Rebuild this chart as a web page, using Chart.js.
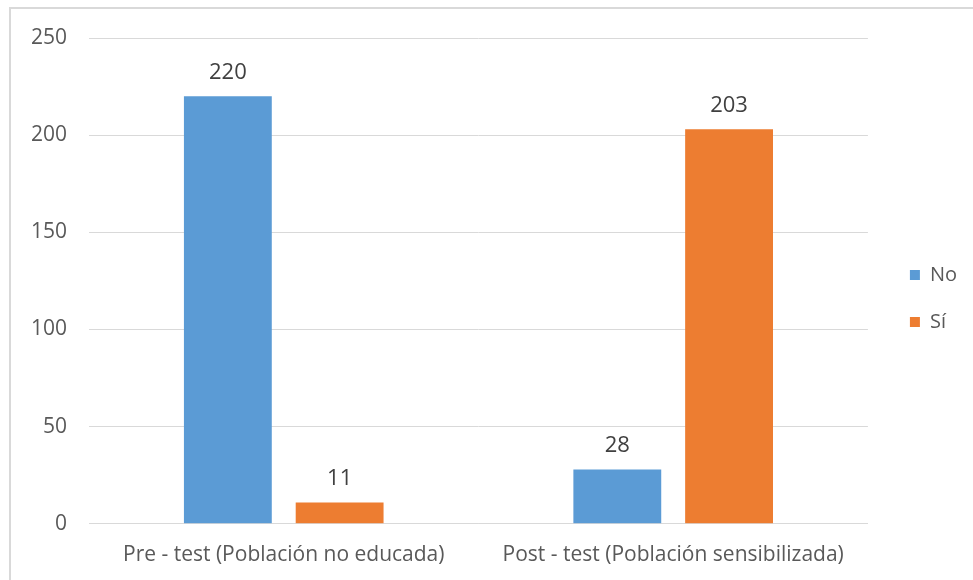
<!DOCTYPE html>
<html>
<head>
<meta charset="utf-8">
<script src="https://cdn.jsdelivr.net/npm/chart.js@4.4.1/dist/chart.umd.min.js"></script>
<style>
  html, body { margin: 0; padding: 0; background: #fff; }
  #frame { position: absolute; left: 9px; top: 7px; width: 990px; height: 600px;
           border: 2px solid #d9d9d9; box-sizing: border-box; }
  #wrap { position: absolute; left: 0; top: 0; width: 973px; height: 580px; }
</style>
</head>
<body>
<div id="frame"></div>
<div id="wrap"><canvas id="chart"></canvas></div>
<script>
const categories = ['Pre - test (Población no educada)', 'Post - test (Población sensibilizada)'];
const seriesNames = ['No', 'Sí'];
const noValues = [220, 28];
const siValues = [11, 203];
const yMin = 0;
const yMax = 250;
const yStep = 50;

const FONT = '"Open Sans", "Noto Sans", sans-serif';
const TEXT_GRAY = '#595959';

// Value printed above each bar
const valueLabels = {
  id: 'valueLabels',
  afterDatasetsDraw(chart) {
    const ctx = chart.ctx;
    ctx.save();
    ctx.font = '22px ' + FONT;
    ctx.fillStyle = '#404040';
    ctx.textAlign = 'center';
    ctx.textBaseline = 'middle';
    chart.data.datasets.forEach((ds, i) => {
      chart.getDatasetMeta(i).data.forEach((bar, j) => {
        ctx.fillText(String(ds.data[j]), bar.x, bar.y - 24);
      });
    });
    ctx.restore();
  }
};

// Nudge the vertically centred legend block a little higher
const legendLift = {
  id: 'legendLift',
  afterLayout(chart) {
    if (chart.legend) chart.legend.bottom -= 20;
  }
};

new Chart(document.getElementById('chart'), {
  type: 'bar',
  data: {
    labels: categories,
    datasets: [
      { label: seriesNames[0], data: noValues, backgroundColor: '#5b9bd5' },
      { label: seriesNames[1], data: siValues, backgroundColor: '#ed7d31' }
    ]
  },
  options: {
    responsive: true,
    maintainAspectRatio: false,
    animation: false,
    events: [],
    layout: { padding: { left: 9, right: 6, top: 38, bottom: 1 } },
    datasets: { bar: { categoryPercentage: 0.574, barPercentage: 0.786 } },
    scales: {
      x: {
        grid: { display: false },
        border: { display: true, color: '#d9d9d9', width: 1 },
        ticks: { color: TEXT_GRAY, font: { family: FONT, size: 21 }, padding: 11, maxRotation: 0 }
      },
      y: {
        min: yMin, max: yMax,
        grid: { color: '#d9d9d9', lineWidth: 1, drawTicks: false },
        border: { display: false },
        ticks: { stepSize: yStep, color: TEXT_GRAY, font: { family: FONT, size: 21 }, padding: 22 }
      },
      // empty spacer between the plot and the legend
      gap: {
        type: 'linear', position: 'right', display: true,
        grid: { display: false }, border: { display: false }, ticks: { display: false },
        afterFit(scale) { scale.width = 15; }
      }
    },
    plugins: {
      tooltip: { enabled: false },
      legend: {
        position: 'right',
        labels: {
          color: TEXT_GRAY,
          font: { family: FONT, size: 20 },
          boxWidth: 10, boxHeight: 10,
          padding: 27
        }
      }
    }
  },
  plugins: [valueLabels, legendLift]
});
</script>
</body>
</html>
